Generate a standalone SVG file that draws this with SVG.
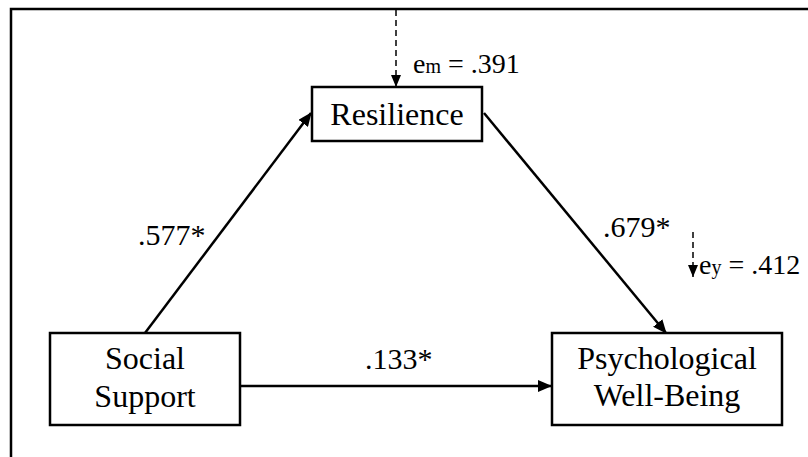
<svg xmlns="http://www.w3.org/2000/svg" width="808" height="457" viewBox="0 0 808 457">
<defs>
<style>
.box{fill:#fff;stroke:#000;stroke-width:2.5}
.lbl{font-family:"Liberation Serif","Times New Roman",serif;fill:#000}
.node{font-size:32px;text-anchor:middle}
.coef{font-size:30px}
.res{font-size:28px}
.arrow{stroke:#000;stroke-width:2.5;fill:none;marker-end:url(#ah)}
.dash{stroke:#000;stroke-width:1.5;fill:none;stroke-dasharray:6 4;marker-end:url(#ahs)}
</style>
<marker id="ah" markerUnits="userSpaceOnUse" markerWidth="14" markerHeight="12" refX="13" refY="6" orient="auto">
<path d="M0,0 L14,6 L0,12 Z" fill="#000"/>
</marker>
<marker id="ahs" markerUnits="userSpaceOnUse" markerWidth="12" markerHeight="10" refX="12" refY="5" orient="auto">
<path d="M0,0 L12,5 L0,10 Z" fill="#000"/>
</marker>
</defs>
<rect width="808" height="457" fill="#fff"/>
<g id="frame" fill="none" stroke="#000" stroke-width="2.5">
<path d="M11,457 V9 H808"/>
</g>
<g id="connectors">
<line class="arrow" x1="145" y1="333" x2="311" y2="113"/>
<line class="arrow" x1="484" y1="113" x2="666" y2="333"/>
<line class="arrow" x1="240" y1="386" x2="551" y2="386"/>
<line class="dash" x1="396" y1="10" x2="396" y2="87"/>
<line class="dash" x1="693" y1="232" x2="693" y2="277"/>
</g>
<g id="resilience">
<rect class="box" x="312" y="87" width="170" height="54"/>
<text class="lbl node" x="397" y="125">Resilience</text>
</g>
<g id="social-support">
<rect class="box" x="50" y="333" width="190" height="92"/>
<text class="lbl node" x="145" y="369">Social</text>
<text class="lbl node" x="145" y="407">Support</text>
</g>
<g id="psychological-well-being">
<rect class="box" x="552" y="333" width="230" height="92"/>
<text class="lbl node" x="667" y="369">Psychological</text>
<text class="lbl node" x="667" y="406">Well-Being</text>
</g>
<g id="labels">
<text class="lbl coef" x="138" y="245">.577*</text>
<text class="lbl coef" x="603" y="237">.679*</text>
<text class="lbl coef" x="365" y="369">.133*</text>
<text class="lbl res" x="413" y="73">e<tspan font-size="20">m</tspan> = .391</text>
<text class="lbl res" x="699" y="274">e<tspan font-size="20">y</tspan> = .412</text>
</g>
</svg>
